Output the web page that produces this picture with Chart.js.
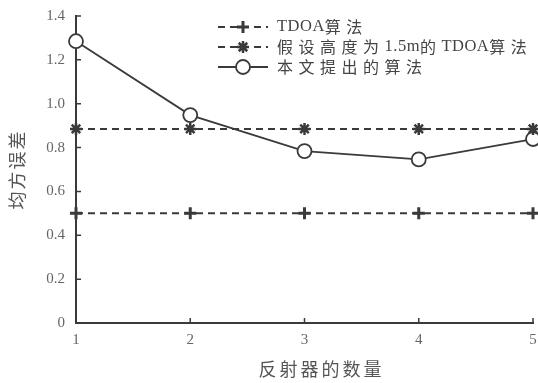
<!DOCTYPE html>
<html>
<head>
<meta charset="utf-8">
<script src="https://cdn.jsdelivr.net/npm/chart.js@4"></script>
<style>
  html, body { margin: 0; padding: 0; background: #fff; }
  #wrap { width: 538px; height: 383px; }
</style>
</head>
<body>
<div id="wrap"><canvas id="errChart"></canvas></div>
<script>
const xLabels = ["1", "2", "3", "4", "5"];
const yTicks = [0, 0.2, 0.4, 0.6, 0.8, 1.0, 1.2, 1.4];
const yTickLabels = ["0", "0.2", "0.4", "0.6", "0.8", "1.0", "1.2", "1.4"];

const tdoa = [0.5, 0.5, 0.5, 0.5, 0.5];
const tdoaHeight = [0.885, 0.885, 0.885, 0.885, 0.885];
const proposed = [1.285, 0.948, 0.784, 0.746, 0.839];

const seriesNames = ["TDOA算法", "假设高度为1.5m的TDOA算法", "本文提出的算法"];
const xTitle = "反射器的数量";
const yTitle = "均方误差";

const lineColor = "#3a3a3a";
const textColor = "#555";
const tickColor = "#666";
const dash = [7, 5];

// split a string into latin / cjk runs so each can get its own font
function runs(str) {
  const out = [];
  for (const ch of str) {
    const cjk = /[\u3000-\u9fff]/.test(ch);
    if (out.length && out[out.length - 1].cjk === cjk) out[out.length - 1].t += ch;
    else out.push({ t: ch, cjk: cjk });
  }
  return out;
}

function drawMixed(ctx, str, x, y) {
  runs(str).forEach((r) => {
    if (r.cjk) {
      ctx.font = '16px "Noto Sans CJK SC"';
      ctx.letterSpacing = "5.5px";
    } else {
      ctx.font = '16.5px "Liberation Serif"';
      ctx.letterSpacing = "0.5px";
    }
    ctx.fillText(r.t, x, y);
    x += ctx.measureText(r.t).width;
  });
  ctx.letterSpacing = "0px";
}

const extras = {
  id: "extras",
  afterDraw(chart) {
    const { ctx, chartArea: a, scales } = chart;
    const x = scales.x, y = scales.y;
    ctx.save();

    // inward tick marks
    ctx.strokeStyle = lineColor;
    ctx.lineWidth = 1.5;
    ctx.beginPath();
    yTicks.forEach((v) => {
      const py = y.getPixelForValue(v);
      ctx.moveTo(a.left, py);
      ctx.lineTo(a.left + 5, py);
    });
    xLabels.forEach((l, i) => {
      const px = x.getPixelForValue(i);
      ctx.moveTo(px, a.bottom);
      ctx.lineTo(px, a.bottom - 5);
    });
    ctx.stroke();

    // axis titles
    ctx.fillStyle = textColor;
    ctx.textBaseline = "middle";
    ctx.textAlign = "center";
    ctx.font = '18px "Noto Sans CJK SC"';
    ctx.letterSpacing = "3px";
    ctx.fillText(xTitle, (a.left + a.right) / 2 + 17, a.bottom + 46);
    ctx.save();
    ctx.translate(a.left - 59, (a.top + a.bottom) / 2);
    ctx.rotate(-Math.PI / 2);
    ctx.letterSpacing = "2px";
    ctx.fillText(yTitle, 0, 0);
    ctx.restore();
    ctx.letterSpacing = "0px";

    // legend
    const lx = a.left + 142, ly = a.top + 11, step = 20;
    chart.data.datasets.forEach((ds, i) => {
      const yy = ly + i * step;
      ctx.strokeStyle = lineColor;
      ctx.lineWidth = ds.borderWidth;
      ctx.setLineDash(ds.borderDash || []);
      ctx.beginPath();
      ctx.moveTo(lx, yy);
      ctx.lineTo(lx + 50, yy);
      ctx.stroke();
      ctx.setLineDash([]);
      ctx.lineWidth = ds.pointBorderWidth;
      ctx.fillStyle = ds.pointBackgroundColor;
      ctx.strokeStyle = lineColor;
      Chart.helpers.drawPoint(ctx, { pointStyle: ds.pointStyle, radius: ds.pointRadius, borderWidth: ds.pointBorderWidth, rotation: 0 }, lx + 25, yy);
      ctx.fillStyle = "#444";
      ctx.textAlign = "left";
      ctx.textBaseline = "middle";
      drawMixed(ctx, ds.label, lx + 59, yy);
    });
    ctx.restore();
  },
};

const ctx = document.getElementById("errChart");

new Chart(ctx, {
  type: "line",
  data: {
    labels: xLabels,
    datasets: [
      {
        label: seriesNames[0],
        data: tdoa,
        borderColor: lineColor,
        borderWidth: 2,
        borderDash: dash,
        pointStyle: "cross",
        pointRadius: 6,
        pointBorderWidth: 3,
        pointBorderColor: lineColor,
        pointBackgroundColor: lineColor,
        clip: false,
      },
      {
        label: seriesNames[1],
        data: tdoaHeight,
        borderColor: lineColor,
        borderWidth: 2,
        borderDash: dash,
        pointStyle: "star",
        pointRadius: 6,
        pointBorderWidth: 2.5,
        pointBorderColor: lineColor,
        pointBackgroundColor: lineColor,
        clip: false,
      },
      {
        label: seriesNames[2],
        data: proposed,
        borderColor: lineColor,
        borderWidth: 1.8,
        pointStyle: "circle",
        pointRadius: 7,
        pointBorderWidth: 1.8,
        pointBorderColor: lineColor,
        pointBackgroundColor: "#fff",
        clip: false,
      },
    ],
  },
  options: {
    responsive: true,
    maintainAspectRatio: false,
    animation: false,
    layout: { autoPadding: false, padding: { top: 16, right: 5, left: 0, bottom: 0 } },
    plugins: { legend: { display: false }, tooltip: { enabled: false } },
    scales: {
      x: {
        offset: false,
        grid: { display: false, drawTicks: false },
        border: { display: true, color: lineColor, width: 2 },
        ticks: { color: tickColor, padding: 8, font: { family: "Liberation Serif", size: 15 } },
        afterFit(scale) {
          scale.height = 60;
          scale.paddingLeft = 0;
          scale.paddingRight = 0;
        },
      },
      y: {
        min: 0,
        max: 1.4,
        grid: { display: false, drawTicks: false },
        border: { display: true, color: lineColor, width: 2 },
        ticks: {
          stepSize: 0.2,
          color: tickColor,
          padding: 11,
          font: { family: "Liberation Serif", size: 15 },
          callback: (v, i) => yTickLabels[i],
        },
        afterFit(scale) {
          scale.width = 76;
          scale.paddingTop = 0;
          scale.paddingBottom = 0;
        },
      },
    },
  },
  plugins: [extras],
});
</script>
</body>
</html>
